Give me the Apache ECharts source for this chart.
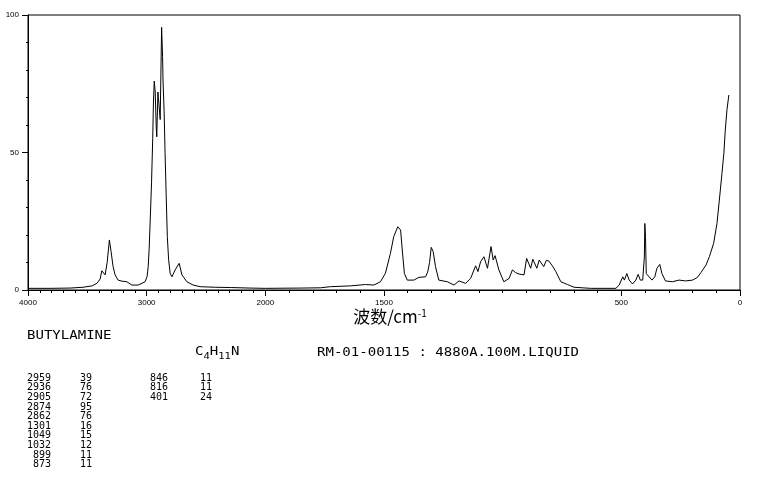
<!DOCTYPE html>
<html>
<head>
<meta charset="utf-8">
<script src="https://cdn.jsdelivr.net/npm/echarts@6/dist/echarts.min.js"></script>
<style>
html,body{margin:0;padding:0;background:#fff;}
#chart{width:765px;height:481px;}
</style>
</head>
<body>
<div id="chart"></div>
<script>
// ---- data (wavenumber cm-1, intensity) ----
const spectrumWn = [
  4000,3814,3646,3536,3460,3418,3392,3378,3367,3350,3333,3314,3300,3283,3266,3241,3207,3167,3125,3072,
  3013,2996,2987,2979,2970,2959,2949,2943,2936,2928,2920,2915,2905,2901,2886,2874,2866,2862,2853,2845,
  2836,2826,2815,2802,2787,2776,2760,2726,2703,2661,2608,2549,2422,2295,2127,2000,
  1852,1768,1726,1641,1578,1543,1515,1494,1473,1459,1442,1435,1430,1423,1414,1402,1374,1353,1325,1316,
  1308,1301,1293,1283,1269,1233,1205,1184,1156,1135,1114,1104,1093,1079,1064,1049,1040,1032,1016,995,
  973,959,945,931,910,899,882,873,856,846,827,816,805,790,776,755,727,699,629,523,
  509,494,487,477,467,453,439,429,420,410,403,401,398,395,371,359,350,338,329,314,
  285,257,229,200,179,165,143,129,111,97,87,76,68,62,55,47
];
const spectrumInt = [
  0.6,0.6,0.7,1.0,1.5,2.5,4.0,7.0,6.5,5.5,10,18.2,14,8.5,5.5,3.6,3.2,3.0,1.8,1.8,
  3.0,5,8.5,15,25.5,39,55,68,76,72,60,55.7,72,70,62,95.5,85,76,65,50,
  35,19.4,11,6,4.8,5.5,7.3,9.7,5.5,3,1.8,1.2,1.0,0.9,0.7,0.6,
  0.7,0.8,1.2,1.5,2.0,1.8,3.0,6.1,13.3,19.4,23,23.6,21.8,14.5,6,3.6,3.6,4.6,4.8,6.5,
  10,15.5,14,8.5,3.6,3,1.8,3.3,2.4,4.2,8.8,6.7,10.3,12.1,7.9,15.8,10.9,12.5,7.3,3,
  4.2,7.3,6.3,5.8,5.5,11.5,7.9,11.2,7.9,10.9,8.5,10.8,10.5,8.7,6.7,3,2,1,0.6,0.6,
  1.8,4.8,3.6,6,3.6,2.2,3.6,5.7,3.6,3.6,12,24.2,19,6,3.6,4.8,7.9,9.3,6,3.3,
  3,3.6,3.3,3.6,4.6,6.3,9.1,12.1,17,24.2,32.7,42.4,49.7,58.2,65.5,70.9
];
const xTickLabels = [4000, 3000, 2000, 1500, 500, 0];
const yTickLabels = [0, 50, 100];
const peakWn  = [2959, 2936, 2905, 2874, 2862, 1301, 1049, 1032, 899, 873, 846, 816, 401];
const peakInt = [39, 76, 72, 95, 76, 16, 15, 12, 11, 11, 11, 11, 24];
const compoundName = 'BUTYLAMINE';
const sampleInfo = 'RM-01-00115 : 4880A.100M.LIQUID';

// ---- broken wavenumber scale: 4000-2000 compressed, 2000-0 expanded ----
function tx(w) { return w >= 2000 ? (4000 - w) / 1000 : 2 + (2000 - w) / 500; }
function itx(v) { return v <= 2 ? 4000 - v * 1000 : 2000 - (v - 2) * 500; }

const lineData = spectrumWn.map((w, i) => [tx(w), spectrumInt[i]]);
const minorTickVals = [];
for (let w = 0; w <= 4000; w += 100) minorTickVals.push(tx(w));
const majorTickVals = xTickLabels.map(tx);

function pad(s, n) { s = String(s); while (s.length < n) s = ' ' + s; return s; }
const col1 = peakWn.slice(0, 10).map(v => pad(v, 4)).join('\n');
const col2 = peakInt.slice(0, 10).map(v => String(v)).join('\n');
const col3 = peakWn.slice(10).map(v => pad(v, 3)).join('\n');
const col4 = peakInt.slice(10).map(v => String(v)).join('\n');

const chart = echarts.init(document.getElementById('chart'));
const axisFont = { fontFamily: 'Liberation Sans', fontSize: 8, color: '#000' };
const mono = '"DejaVu Sans Mono"';

chart.setOption({
  animation: false,
  backgroundColor: '#fff',
  grid: { left: 28, right: 25, top: 15, bottom: 191, show: true, borderColor: '#000', borderWidth: 1 },
  xAxis: [
    {
      type: 'value', min: 0, max: 6, position: 'bottom',
      axisLine: { show: true, lineStyle: { color: '#000', width: 1 } },
      axisTick: { show: true, length: 3, customValues: minorTickVals, lineStyle: { color: '#000' } },
      axisLabel: { show: false },
      splitLine: { show: false }
    },
    {
      type: 'value', min: 0, max: 6, position: 'bottom',
      axisLine: { show: true, lineStyle: { color: '#000', width: 1 } },
      axisTick: { show: true, length: 6, customValues: majorTickVals, lineStyle: { color: '#000' } },
      axisLabel: Object.assign({ show: true, margin: 9, customValues: majorTickVals,
        formatter: v => String(Math.round(itx(v))) }, axisFont),
      splitLine: { show: false }
    }
  ],
  yAxis: {
    type: 'value', min: 0, max: 100, interval: 50,
    axisLine: { show: true, lineStyle: { color: '#000', width: 1 } },
    axisTick: { show: true, length: 6, lineStyle: { color: '#000' } },
    minorTick: { show: true, splitNumber: 5, length: 2, lineStyle: { color: '#000' } },
    axisLabel: Object.assign({ margin: 9, formatter: v => yTickLabels.indexOf(v) >= 0 ? String(v) : '' }, axisFont),
    splitLine: { show: false }
  },
  series: [{
    type: 'line', xAxisIndex: 0, data: lineData, symbol: 'none', smooth: false,
    lineStyle: { color: '#000', width: 1 }, silent: true
  }],
  graphic: [
    { type: 'text', x: 390, y: 318, style: {
        text: '{a|波数/cm}{b|-1}', align: 'center', verticalAlign: 'middle',
        rich: { a: { fontFamily: '"Noto Sans CJK SC"', fontSize: 17, fill: '#000', verticalAlign: 'top', lineHeight: 20 },
                b: { fontFamily: '"Noto Sans CJK SC"', fontSize: 10, fill: '#000', verticalAlign: 'top', lineHeight: 12 } } } },
    { type: 'text', x: 27, y: 336, scaleX: 1.17, style: { text: compoundName, font: '12px ' + mono, fill: '#000', align: 'left', verticalAlign: 'middle' } },
    { type: 'text', x: 195, y: 346, scaleX: 1.17, style: {
        text: '{n|C}{s|4}{n|H}{s|11}{n|N}', align: 'left', verticalAlign: 'top',
        rich: { n: { fontFamily: mono, fontSize: 12, fill: '#000', verticalAlign: 'top', lineHeight: 13 },
                s: { fontFamily: mono, fontSize: 9, fill: '#000', verticalAlign: 'top', lineHeight: 9, padding: [6, 0, 0, 0] } } } },
    { type: 'text', x: 317, y: 353, scaleX: 1.17, style: { text: sampleInfo, font: '12px ' + mono, fill: '#000', align: 'left', verticalAlign: 'middle' } },
    { type: 'text', x: 27, y: 373.5, style: { text: col1, font: '10px ' + mono, lineHeight: 9.6, fill: '#000', align: 'left', verticalAlign: 'top' } },
    { type: 'text', x: 80, y: 373.5, style: { text: col2, font: '10px ' + mono, lineHeight: 9.6, fill: '#000', align: 'left', verticalAlign: 'top' } },
    { type: 'text', x: 150, y: 373.5, style: { text: col3, font: '10px ' + mono, lineHeight: 9.6, fill: '#000', align: 'left', verticalAlign: 'top' } },
    { type: 'text', x: 200, y: 373.5, style: { text: col4, font: '10px ' + mono, lineHeight: 9.6, fill: '#000', align: 'left', verticalAlign: 'top' } }
  ]
});
</script>
</body>
</html>
